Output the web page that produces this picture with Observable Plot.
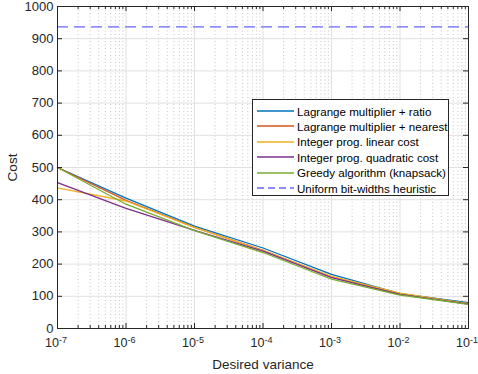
<!DOCTYPE html>
<html>
<head>
<meta charset="utf-8">
<script src="https://cdn.jsdelivr.net/npm/d3@7"></script>
<script src="https://cdn.jsdelivr.net/npm/@observablehq/plot@0.6"></script>
<style>
  html, body { margin: 0; padding: 0; background: #fff; }
  #wrap { position: relative; width: 478px; height: 374px; font-family: "Liberation Sans", Arial, Helvetica, sans-serif; }
  #legend { position: absolute; left: 252px; top: 99px; width: 197px; height: 97px; border: 1px solid #262626; background: #fff; box-sizing: border-box; }
  .row { position: absolute; left: 0; height: 15px; display: flex; align-items: center; font-family: "Liberation Sans", Arial, sans-serif; font-size: 11.6px; color: #000; white-space: nowrap; }
  .row svg { margin-left: 4px; margin-right: 3px; }
</style>
</head>
<body>
<div id="wrap"></div>
<script>
// ---- data ----
const variance = [1e-7, 1e-6, 1e-5, 1e-4, 1e-3, 1e-2, 1e-1];
const seriesNames = [
  "Lagrange multiplier + ratio",
  "Lagrange multiplier + nearest",
  "Integer prog. linear cost",
  "Integer prog. quadratic cost",
  "Greedy algorithm (knapsack)"
];
const lagrangeRatio    = [500, 405, 318, 250, 168, 108, 80];
const lagrangeNearest  = [500, 398, 314, 243, 160, 106, 77];
const intLinear        = [437, 396, 314, 242, 162, 110, 77];
const intQuadratic     = [453, 373, 305, 240, 158, 106, 76];
const greedy           = [500, 386, 304, 236, 153, 104, 75];
const uniformName = "Uniform bit-widths heuristic";
const uniformCost = 937;
const seriesColors = ["#0072BD", "#D95319", "#EDB120", "#7E2F8E", "#77AC30"];
const uniformColor = "#6666ff";
const yTicks = [0, 100, 200, 300, 400, 500, 600, 700, 800, 900, 1000];
const decadeExps = [-7, -6, -5, -4, -3, -2, -1];

// ---- build table ----
const allSeries = [lagrangeRatio, lagrangeNearest, intLinear, intQuadratic, greedy];
const table = [];
allSeries.forEach((vals, i) => vals.forEach((v, j) => table.push({series: seriesNames[i], x: variance[j], y: v})));
const decades = decadeExps.map(e => Math.pow(10, e));
const minor = [];
decadeExps.slice(0, -1).forEach(e => { for (let k = 2; k <= 9; k++) minor.push(k * Math.pow(10, e)); });

const W = 478, H = 374, mt = 6, mb = 46, ml = 57, mr = 10;
const pw = W - ml - mr, ph = H - mt - mb;
const axisColor = "#262626";
const FONT = "'Liberation Sans', Arial, Helvetica, sans-serif";

const chart = Plot.plot({
  width: W, height: H,
  marginTop: mt, marginBottom: mb, marginLeft: ml, marginRight: mr,
  style: {fontFamily: FONT, fontSize: "12.5px", color: axisColor, background: "white"},
  x: {type: "log", domain: [decades[0], decades[decades.length - 1]]},
  y: {domain: [yTicks[0], yTicks[yTicks.length - 1]]},
  color: {domain: seriesNames, range: seriesColors},
  marks: [
    Plot.ruleX(minor, {stroke: "#b8b8b8", strokeDasharray: "1,2.5", strokeWidth: 0.8}),
    Plot.ruleX(decades, {stroke: "#e0e0e0", strokeWidth: 1}),
    Plot.ruleY(yTicks, {stroke: "#e0e0e0", strokeWidth: 1}),
    Plot.ruleY([uniformCost], {stroke: uniformColor, strokeDasharray: "11,6", strokeWidth: 1.3}),
    Plot.line(table, {x: "x", y: "y", z: "series", stroke: "series", strokeWidth: 1.3}),
    // inward ticks
    Plot.tickX(decades, {stroke: axisColor, insetTop: ph - 5}),
    Plot.tickX(decades, {stroke: axisColor, insetBottom: ph - 5}),
    Plot.tickX(minor, {stroke: axisColor, insetTop: ph - 3}),
    Plot.tickX(minor, {stroke: axisColor, insetBottom: ph - 3}),
    Plot.tickY(yTicks, {stroke: axisColor, insetRight: pw - 5}),
    Plot.tickY(yTicks, {stroke: axisColor, insetLeft: pw - 5}),
    Plot.axisX({ticks: decades, tickSize: 0, tickPadding: 10, fontSize: 12.5, fontFamily: FONT, dx: -1.5,
      tickFormat: d => "10^" + Math.round(Math.log10(d)),
      label: "Desired variance", labelAnchor: "center", labelArrow: "none", labelOffset: 40}),
    Plot.axisY({ticks: yTicks, tickSize: 0, tickPadding: 4, fontSize: 13, fontFamily: FONT,
      tickFormat: d => String(d),
      label: "Cost", labelAnchor: "center", labelArrow: "none", labelOffset: 50}),
    Plot.frame({stroke: axisColor, strokeWidth: 1})
  ]
});

// superscript exponents on x tick labels
d3.select(chart).selectAll('g[aria-label="x-axis tick label"] text').each(function() {
  const t = d3.select(this);
  const s = t.text();
  const parts = s.split("^");
  if (parts.length === 2) {
    t.text(null);
    t.append("tspan").text(parts[0]);
    t.append("tspan").attr("dy", "-0.45em").attr("font-size", "9px").text(parts[1]);
  }
});
d3.select(chart).selectAll('g[aria-label="x-axis label"], g[aria-label="y-axis label"]')
  .attr("font-size", "13.5px").attr("font-family", FONT);
d3.select(chart).selectAll('g[aria-label="x-axis label"] text, g[aria-label="y-axis label"] text')
  .attr("font-size", "13.5px");

const wrap = document.getElementById("wrap");
wrap.appendChild(chart);

// legend overlay
const legend = document.createElement("div");
legend.id = "legend";
const entries = seriesNames.map((n, i) => ({name: n, color: seriesColors[i], dash: null}));
entries.push({name: uniformName, color: uniformColor, dash: "7,4"});
entries.forEach((e, i) => {
  const row = document.createElement("div");
  row.className = "row";
  row.style.top = (3.5 + i * 15.4) + "px";
  row.innerHTML = `<svg width="37" height="4"><line x1="0" x2="37" y1="2" y2="2" stroke="${e.color}" stroke-width="1.3" ${e.dash ? `stroke-dasharray="${e.dash}"` : ""}/></svg><span>${e.name}</span>`;
  legend.appendChild(row);
});
wrap.appendChild(legend);
</script>
</body>
</html>
